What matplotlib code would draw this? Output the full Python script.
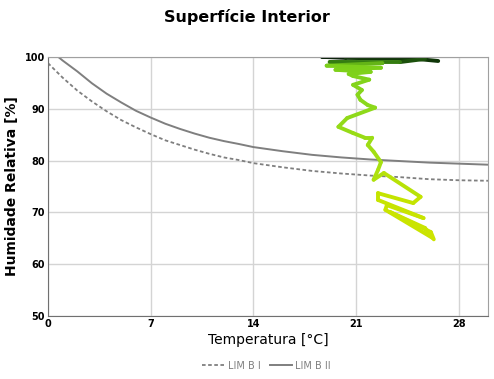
import matplotlib
matplotlib.use("Agg")
import matplotlib.pyplot as plt
import numpy as np
from matplotlib.collections import LineCollection
from matplotlib.colors import LinearSegmentedColormap
from matplotlib.lines import Line2D


# ******************************
# * Data *
# ******************************

# limit curves (LIM B I dashed, LIM B II solid)
t_lim1 = [0, 1, 2, 3, 4, 5, 6, 7, 8, 9, 10, 11, 12, 13, 14, 16, 18, 20, 22, 24, 26, 28, 30]
rh_lim1 = [98.8, 96.0, 93.5, 91.4, 89.5, 87.8, 86.4, 85.1, 83.9, 83.0, 82.1, 81.3, 80.6,
           80.1, 79.5, 78.7, 78.0, 77.5, 77.1, 76.8, 76.4, 76.2, 76.1]

t_lim2 = [0.7, 1, 2, 3, 4, 5, 6, 7, 8, 9, 10, 11, 12, 13, 14, 16, 18, 20, 22, 24, 26, 28, 30]
rh_lim2 = [100.0, 99.3, 97.2, 94.9, 92.9, 91.2, 89.6, 88.3, 87.1, 86.1, 85.2, 84.4, 83.75,
           83.2, 82.6, 81.8, 81.1, 80.6, 80.2, 79.9, 79.6, 79.4, 79.2]

# measured interior surface trace (temperature, relative humidity)
t_meas = [26.6, 23.7, 18.7, 20.3, 25.7, 24.0, 19.2, 22.8, 19.0, 22.7, 19.6, 22.0, 20.5,
          20.8, 21.9, 20.8, 21.4, 21.1, 21.3, 21.8, 22.3, 20.4, 19.8, 20.8, 21.6, 22.1,
          21.8, 22.2, 22.7, 22.5, 22.2, 22.9, 25.4, 24.9, 22.5, 22.5, 25.6, 23.1, 23.0,
          26.2, 25.7, 23.3, 26.1, 26.3]
rh_meas = [99.2, 100.0, 100.0, 99.8, 99.6, 99.0, 99.0, 98.8, 98.3, 97.9, 97.5, 97.1, 96.7,
           96.3, 95.6, 94.6, 93.6, 92.7, 91.7, 90.7, 90.2, 88.2, 86.5, 85.3, 84.4, 84.4,
           83.0, 81.7, 79.7, 78.2, 76.3, 77.6, 73.0, 71.8, 73.7, 72.4, 68.9, 71.4, 70.5,
           65.1, 67.0, 70.1, 66.2, 64.8]

x_ticks = [0, 7, 14, 21, 28]
y_ticks = [50, 60, 70, 80, 90, 100]


# ************
# * Plotting *
# ************

fig = plt.figure(figsize=(4.94, 3.79), dpi=100)
ax = fig.add_axes([0.097, 0.166, 0.891, 0.684])

grey = '#7f7f7f'
ax.plot(t_lim1, rh_lim1, color=grey, lw=1.3, dashes=(2, 1.4))
ax.plot(t_lim2, rh_lim2, color=grey, lw=1.4)

# colour the measured trace from dark green (saturated) to yellow
cmap = LinearSegmentedColormap.from_list(
    'trace', [(0.0, '#cfe400'), (0.25, '#c4e400'), (0.4, '#a8e010'), (0.75, '#8ad81c'),
              (0.955, '#7ccf1a'), (0.975, '#2a7010'), (1.0, '#041c04')])
pts = np.column_stack([t_meas, rh_meas])
segs = np.stack([pts[:-1], pts[1:]], axis=1)
mid_rh = (np.array(rh_meas[:-1]) + np.array(rh_meas[1:])) / 2
colors = cmap((mid_rh - 64) / 36)
lc = LineCollection(segs, colors=colors, linewidths=2.8, capstyle='round', joinstyle='round')
ax.add_collection(lc)

ax.set_xlim(0, 30)
ax.set_ylim(50, 100)
ax.set_xticks(x_ticks)
ax.set_yticks(y_ticks)
ax.tick_params(length=0, labelsize=7, pad=2)
for lab in ax.get_xticklabels() + ax.get_yticklabels():
    lab.set_fontweight('bold')
ax.grid(True, color='#d4d4d4', lw=1)
ax.set_axisbelow(True)
for s in ax.spines.values():
    s.set_color('#a0a0a0')
ax.spines['bottom'].set_color('#707070')
ax.spines['left'].set_color('#707070')

ax.set_xlabel('Temperatura [°C]', fontsize=10, labelpad=3)
ax.set_ylabel('Humidade Relativa [%]', fontsize=10, fontweight='bold', labelpad=4)
fig.suptitle('Superfície Interior', fontsize=11.5, fontweight='bold', y=0.975)

handles = [Line2D([], [], color=grey, lw=1.3, dashes=(2, 1.4)),
           Line2D([], [], color=grey, lw=1.4)]
fig.legend(handles, ['LIM B I', 'LIM B II'], loc='center', bbox_to_anchor=(0.54, 0.035),
           ncol=2, frameon=False, fontsize=7, labelcolor='#808080',
           handlelength=2.2, handletextpad=0.4, columnspacing=1.0)

plt.savefig('out.png', dpi=100)
